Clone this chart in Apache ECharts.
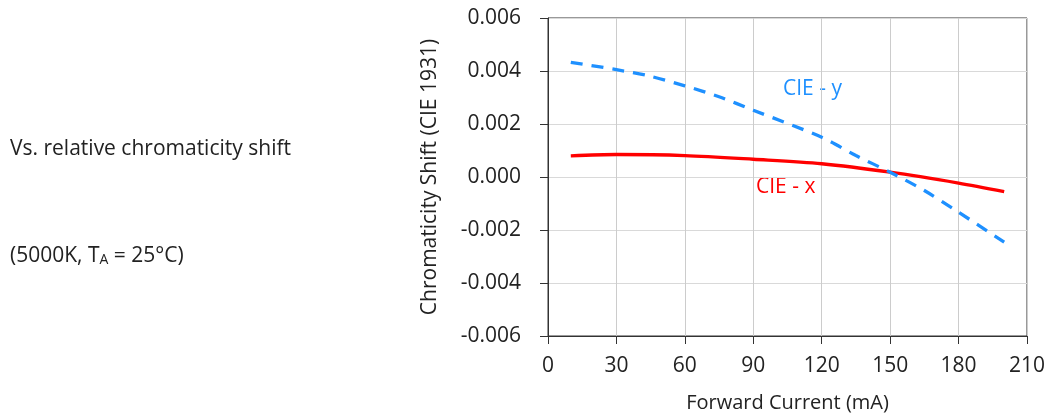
<!DOCTYPE html>
<html>
<head>
<meta charset="utf-8">
<script src="https://cdn.jsdelivr.net/npm/echarts@6/dist/echarts.min.js"></script>
<style>html,body{margin:0;padding:0;background:#fff}#c{width:1050px;height:419px}</style>
</head>
<body>
<div id="c"></div>
<script>
const currentX = [10, 30, 60, 90, 120, 150, 180, 200];
const cieX = [0.00080, 0.00085, 0.00081, 0.00067, 0.00050, 0.00018, -0.00023, -0.00055];
const currentY = [10, 30, 44, 60, 75, 90, 120, 135, 150, 165, 180, 200];
const cieY = [0.00433, 0.00405, 0.00382, 0.00344, 0.00303, 0.00252, 0.00150, 0.00081, 0.00018, -0.00051, -0.00133, -0.00246];
const xTicks = [0, 30, 60, 90, 120, 150, 180, 210];
const yTicks = [-0.006, -0.004, -0.002, 0, 0.002, 0.004, 0.006];

const FONT = 'Open Sans';
const FS = 21;
const chart = echarts.init(document.getElementById('c'));
chart.setOption({
  animation: false,
  textStyle: {fontFamily: FONT},
  grid: {left: 548, right: 23, top: 18, bottom: 83, show: true, borderColor: '#333', borderWidth: 1},
  xAxis: {
    type: 'value', min: xTicks[0], max: xTicks[xTicks.length-1], interval: 30,
    name: 'Forward Current (mA)', nameLocation: 'middle', nameGap: 57,
    nameTextStyle: {fontSize: 20, color: '#222', fontFamily: FONT},
    axisLine: {show: true, onZero: false, lineStyle: {color: '#333', width: 1}},
    axisTick: {show: true, length: 8, lineStyle: {color: '#333'}},
    axisLabel: {fontSize: FS, color: '#222', margin: 20, fontFamily: FONT},
    splitLine: {show: true, lineStyle: {color: '#cccccc', width: 1}}
  },
  yAxis: {
    type: 'value', min: yTicks[0], max: yTicks[yTicks.length-1], interval: 0.002,
    name: 'Chromaticity Shift (CIE 1931)', nameLocation: 'middle', nameGap: 107, nameRotate: 90,
    nameTextStyle: {fontSize: FS, color: '#222', fontFamily: FONT},
    axisLine: {show: true, onZero: false, lineStyle: {color: '#333', width: 1}},
    axisTick: {show: true, length: 8, lineStyle: {color: '#333'}},
    axisLabel: {fontSize: FS, color: '#222', margin: 27, fontFamily: FONT,
      formatter: v => v.toFixed(3)},
    splitLine: {show: true, lineStyle: {color: '#d9d9d9', width: 1}}
  },
  series: [
    {type: 'line', name: 'CIE - x', data: currentX.map((c,i)=>[c, cieX[i]]), smooth: 0.3,
     showSymbol: false, lineStyle: {color: '#ff0000', width: 3.3}},
    {type: 'line', name: 'CIE - y', data: currentY.map((c,i)=>[c, cieY[i]]), smooth: 0.3,
     showSymbol: false, lineStyle: {color: '#1e90ff', width: 3.3, type: [12, 9]}}
  ],
  graphic: [
    {type: 'text', left: 10, top: 139, style: {text: 'Vs. relative chromaticity shift', font: FS + 'px "Open Sans"', fill: '#222'}},
    {type: 'text', left: 10, top: 246, style: {
      text: '(5000K, T{sub|A} = 25°C)', font: FS + 'px "Open Sans"', fill: '#222',
      rich: {sub: {fontSize: 14, fontFamily: FONT, verticalAlign: 'bottom', padding: [7,0,0,0], fill: '#222'}}}},
    {type: 'text', left: 783, top: 79, style: {text: 'CIE - y', font: FS + 'px "Open Sans"', fill: '#1e90ff'}},
    {type: 'text', left: 756, top: 177, style: {text: 'CIE - x', font: FS + 'px "Open Sans"', fill: '#ff0000'}}
  ]
});
</script>
</body>
</html>
